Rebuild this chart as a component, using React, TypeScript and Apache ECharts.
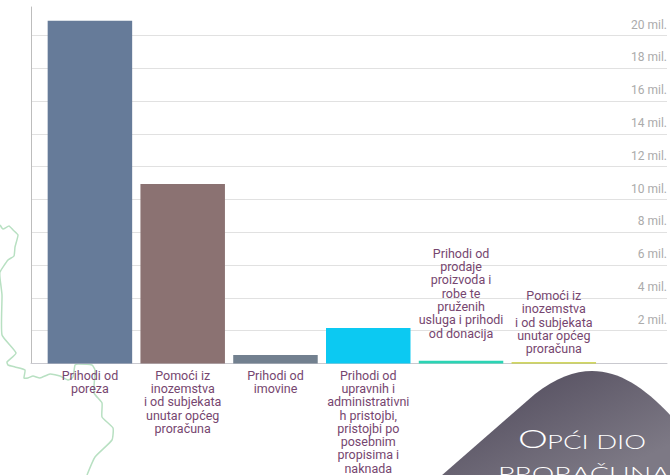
import React, { useEffect, useRef } from "react";
import * as echarts from "echarts";

const categories = [
  "Prihodi od\nporeza",
  "Pomoći iz\ninozemstva\ni od subjekata\nunutar općeg\nproračuna",
  "Prihodi od\nimovine",
  "Prihodi od\nupravnih i\nadministrativni\nh pristojbi,\npristojbi po\nposebnim\npropisima i\nnaknada",
  "Prihodi od\nprodaje\nproizvoda i\nrobe te\npruženih\nusluga i prihodi\nod donacija",
  "Pomoći iz\ninozemstva\ni od subjekata\nunutar općeg\nproračuna",
];
const values = [20900000, 10950000, 520000, 2170000, 170000, 70000];
const colors = ["#667b99", "#8b7272", "#72808f", "#0cc9f2", "#2bd4b4", "#c4cb2e"];
const labelAbove = [false, false, false, false, true, true];
const labelDistance = [5, 5, 5, 5, 21, 7];

const borderLine = [
  [0, 225], [3, 229], [9, 226], [13, 230], [18, 235], [15, 247], [14, 256], [8, 260], [0, 272], [0, 278],
  [2, 295], [2, 335], [16, 353], [7, 362], [8, 365], [15, 367], [25, 370], [24, 378], [28, 378], [33, 376],
  [40, 378], [50, 374], [60, 376], [68, 380], [73, 377], [75, 365], [78, 364], [92, 365], [95, 370], [94, 393],
  [102, 403], [102, 417], [113, 428], [112, 440], [95, 457], [87, 475],
];

const badge = "M441 476 L535 394 C555 378 575 371 592 371 C620 371 645 388 672 417 L672 476 Z";
echarts.graphic.registerShape("badge", echarts.graphic.extendPath(badge, {}) as any);

const titleFont = "Lato";

export default function App() {
  const ref = useRef<HTMLDivElement>(null);
  useEffect(() => {
    document.body.style.margin = "0";
    const chart = echarts.init(ref.current!, undefined, { renderer: "svg" });
    const titleStyle = (text: string, x: number, y: number, size: number, scaleX: number) => ({
      type: "text",
      x,
      y,
      scaleX,
      z: 5,
      style: { text, fontFamily: titleFont, fontSize: size, fontWeight: 300, fill: "#ffffff", textVerticalAlign: "bottom" },
    });
    chart.setOption({
      animation: false,
      grid: { left: 31, right: 2, top: 7, bottom: 111.5 },
      xAxis: {
        type: "value",
        min: -0.635,
        max: 6.22,
        axisLabel: { show: false },
        axisTick: { show: false },
        splitLine: { show: false },
        axisLine: { show: true, onZero: false, lineStyle: { color: "#c9c9cf", width: 1 } },
      },
      yAxis: [
        {
          type: "value",
          position: "right",
          min: 0,
          max: 21740000,
          interval: 2000000,
          axisLine: { show: false },
          axisTick: { show: false },
          splitLine: { show: true, showMaxLine: false, showMinLine: false, lineStyle: { color: "#e1e1e1", width: 1 } },
          axisLabel: {
            inside: true,
            margin: 0,
            align: "right",
            verticalAlign: "bottom",
            padding: [0, 0, 5, 0],
            color: "#ababab",
            fontFamily: "Roboto",
            fontSize: 12,
            showMinLabel: false,
            showMaxLabel: false,
            formatter: (v: number) => `${v / 1000000} mil.`,
          },
        },
        {
          type: "value",
          position: "left",
          min: 0,
          max: 21740000,
          interval: 21740000,
          axisLine: { show: true, lineStyle: { color: "#bdbdbd", width: 1 } },
          axisTick: { show: false },
          axisLabel: { show: false },
          splitLine: { show: false },
        },
      ],
      series: [
        {
          type: "bar",
          barWidth: 84.5,
          data: values.map((v, i) => ({
            value: [i, v],
            itemStyle: { color: colors[i] },
            label: {
              show: true,
              formatter: categories[i],
              position: labelAbove[i] ? "top" : "bottom",
              distance: labelDistance[i],
              color: "#76466f",
              fontFamily: "Roboto",
              fontSize: 12.5,
              lineHeight: 13.3,
              align: "center",
            },
          })),
        },
      ],
      graphic: [
        {
          type: "polyline",
          z: -10,
          silent: true,
          shape: { points: borderLine, smooth: 0.15 },
          style: { stroke: "#b8e0c2", lineWidth: 1.5, fill: "none" },
        },
        {
          type: "badge",
          x: 0,
          y: 0,
          z: 4,
          silent: true,
          style: {
            fill: new echarts.graphic.LinearGradient(0.25, 0, 1, 0.7, [
              { offset: 0, color: "#534d5e" },
              { offset: 1, color: "#7d7985" },
            ]),
          },
        },
        titleStyle("O", 518, 451, 26, 1.45),
        titleStyle("PĆI DIO", 547, 451, 19, 1.45),
        titleStyle("PRORAČUNA", 498, 483, 19, 1.5),
      ],
    });
    return () => chart.dispose();
  }, []);
  return <div ref={ref} style={{ width: 670, height: 475 }} />;
}
